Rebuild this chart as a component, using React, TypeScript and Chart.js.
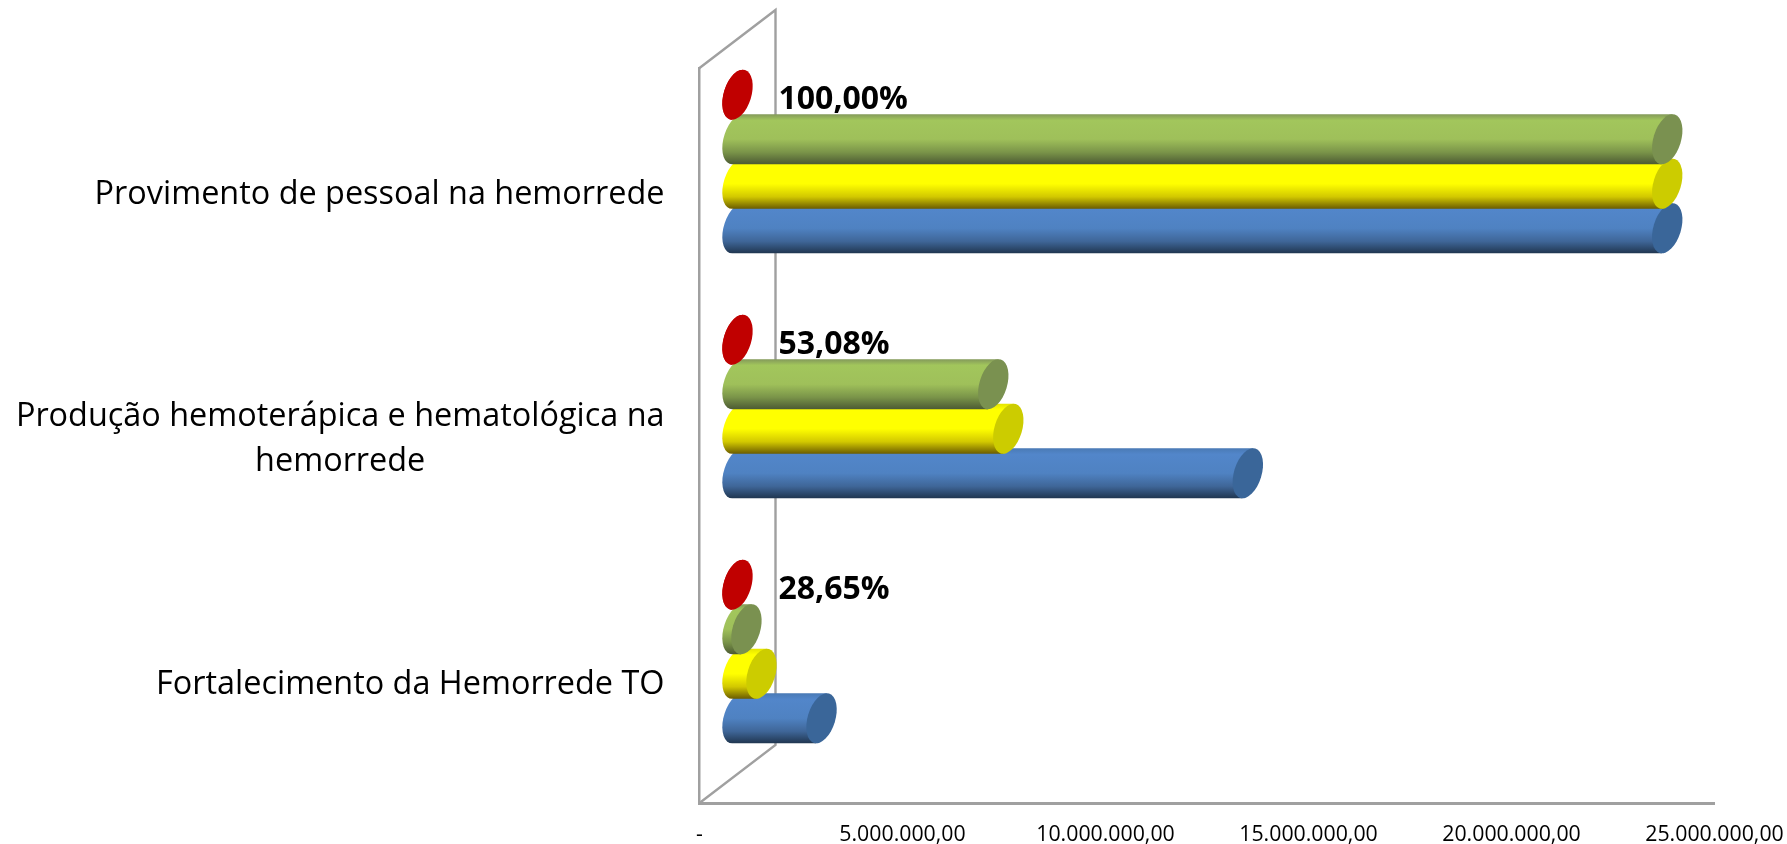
import React, { useEffect, useRef } from "react";
import { Chart, registerables } from "chart.js";

Chart.register(...registerables);

const categories = [
  ["Provimento de pessoal na hemorrede"],
  ["Produção hemoterápica e hematológica na", "hemorrede"],
  ["Fortalecimento da Hemorrede TO"],
];
const redSeries = [0, 0, 0];
const greenSeries = [22900000, 6300000, 220000];
const yellowSeries = [22900000, 6670000, 590000];
const blueSeries = [22900000, 12570000, 2070000];
const percentLabels = ["100,00%", "53,08%", "28,65%"];

const DEPTH_X = 38;
const DEPTH_Y = -29;
const LABEL_FONT = '32.4px "Open Sans", sans-serif';
const GREY = "#a0a0a0";

const styles = [
  { stops: ["#c00000", "#c00000", "#c00000", "#c00000", "#c00000"], cap: "#c00000" },
  { stops: ["#83995a", "#a2c65c", "#9fc05a", "#7a9449", "#4c5a33"], cap: "#7a9150" },
  { stops: ["#e4e400", "#ffff00", "#ffff00", "#d2c800", "#6b5c00"], cap: "#cccc00" },
  { stops: ["#4a7ab5", "#5286ca", "#4f82c2", "#3f6698", "#203650"], cap: "#3a6699" },
];

const TILT = (17 * Math.PI) / 180;

function drawCylinder(ctx: CanvasRenderingContext2D, el: any, style: any) {
  const cy = el.y + DEPTH_Y;
  const x0 = el.base + DEPTH_X;
  const x1 = el.x + DEPTH_X;
  const a = el.height * 0.31;
  const b = el.height * 0.58;
  const sin = Math.sin(TILT);
  const cos = Math.cos(TILT);
  const hy = Math.sqrt(a * a * sin * sin + b * b * cos * cos);
  const shift = ((b * b - a * a) * sin * cos) / hy;
  const tBottom = Math.atan2(b * cos, a * sin);
  const grad = ctx.createLinearGradient(0, cy - hy, 0, cy + hy);
  const pos = [0, 0.12, 0.5, 0.76, 1];
  style.stops.forEach((c: string, i: number) => grad.addColorStop(pos[i], c));

  ctx.beginPath();
  ctx.ellipse(x0, cy, a, b, TILT, tBottom + Math.PI, tBottom, true);
  ctx.lineTo(x1 - shift, cy + hy);
  ctx.lineTo(x1 + shift, cy - hy);
  ctx.closePath();
  ctx.fillStyle = grad;
  ctx.fill();

  ctx.beginPath();
  ctx.ellipse(x1, cy, a, b, TILT, 0, Math.PI * 2);
  ctx.fillStyle = style.cap;
  ctx.fill();
}

const cylinderPlugin = {
  id: "cylinders",
  beforeDatasetsDraw(chart: any) {
    const { ctx, chartArea } = chart;
    const { left, top, bottom } = chartArea;
    ctx.save();
    ctx.strokeStyle = GREY;
    ctx.lineWidth = 2.4;
    ctx.beginPath();
    ctx.moveTo(left, top);
    ctx.lineTo(left + DEPTH_X * 2, top + DEPTH_Y * 2);
    ctx.lineTo(left + DEPTH_X * 2, bottom + DEPTH_Y * 2);
    ctx.lineTo(left, bottom);
    ctx.stroke();
    ctx.restore();
  },
  afterDatasetsDraw(chart: any) {
    const { ctx } = chart;
    ctx.save();
    for (let d = chart.data.datasets.length - 1; d >= 0; d--) {
      const meta = chart.getDatasetMeta(d);
      meta.data.forEach((el: any) => drawCylinder(ctx, el, styles[d]));
    }
    // percentage labels, anchored on the red marker of each group
    const red = chart.getDatasetMeta(0);
    ctx.fillStyle = "#000";
    ctx.font = 'bold 32px "Open Sans", sans-serif';
    ctx.textAlign = "left";
    ctx.textBaseline = "middle";
    red.data.forEach((el: any, i: number) => {
      ctx.fillText(percentLabels[i], el.x + DEPTH_X + 41, el.y + DEPTH_Y + 5);
    });

    // category labels: block right aligned, lines centred inside the block
    const yScale = chart.scales.y;
    ctx.font = LABEL_FONT;
    ctx.fillStyle = "#000";
    ctx.textAlign = "center";
    const rightEdge = chart.chartArea.left - 35;
    const lh = 44.5;
    categories.forEach((lines, i) => {
      const yc = yScale.getPixelForTick(i) + 4;
      const w = Math.max(...lines.map((l) => ctx.measureText(l).width));
      lines.forEach((l, j) => {
        ctx.fillText(l, rightEdge - w / 2, yc + (j - (lines.length - 1) / 2) * lh);
      });
    });
    ctx.restore();
  },
};

export default function App() {
  const ref = useRef<HTMLCanvasElement | null>(null);
  useEffect(() => {
    document.body.style.margin = "0";
    document.body.style.background = "#fff";
    const chart = new Chart(ref.current as HTMLCanvasElement, {
      type: "bar",
      data: {
        labels: categories as any,
        datasets: [
          { label: "Série 1", data: redSeries },
          { label: "Série 2", data: greenSeries },
          { label: "Série 3", data: yellowSeries },
          { label: "Série 4", data: blueSeries },
        ].map((d) => ({
          ...d,
          backgroundColor: "transparent",
          borderWidth: 0,
          barPercentage: 1,
          categoryPercentage: 0.727,
        })),
      },
      options: {
        indexAxis: "y",
        animation: false,
        responsive: false,
        events: [],
        layout: { padding: { top: 68, right: 72.5, left: 0, bottom: 0 } },
        plugins: { legend: { display: false }, tooltip: { enabled: false }, title: { display: false } },
        scales: {
          x: {
            type: "linear",
            min: 0,
            max: 25000000,
            afterFit: (s: any) => {
              s.height = 41;
              s.paddingRight = 0;
              s.paddingLeft = 0;
            },
            grid: { display: false, drawTicks: false },
            border: { display: true, color: GREY, width: 3 },
            ticks: {
              stepSize: 5000000,
              padding: 19,
              maxRotation: 0,
              autoSkip: false,
              color: "#000",
              font: { family: '"Open Sans", sans-serif', size: 21.3 },
              callback: (v: any) =>
                Number(v) === 0
                  ? "-"
                  : Number(v).toLocaleString("pt-BR", { minimumFractionDigits: 2, maximumFractionDigits: 2 }),
            },
          },
          y: {
            type: "category",
            afterFit: (s: any) => {
              s.width = 699.5;
            },
            grid: { display: false, drawTicks: false },
            border: { display: true, color: GREY, width: 2.5 },
            ticks: { display: false },
          },
        },
      },
      plugins: [cylinderPlugin],
    } as any);
    return () => chart.destroy();
  }, []);
  return (
    <div style={{ width: 1787, height: 844, overflow: "hidden" }}>
      <canvas ref={ref} width={1787} height={844} style={{ display: "block", width: 1787, height: 844 }} />
    </div>
  );
}
